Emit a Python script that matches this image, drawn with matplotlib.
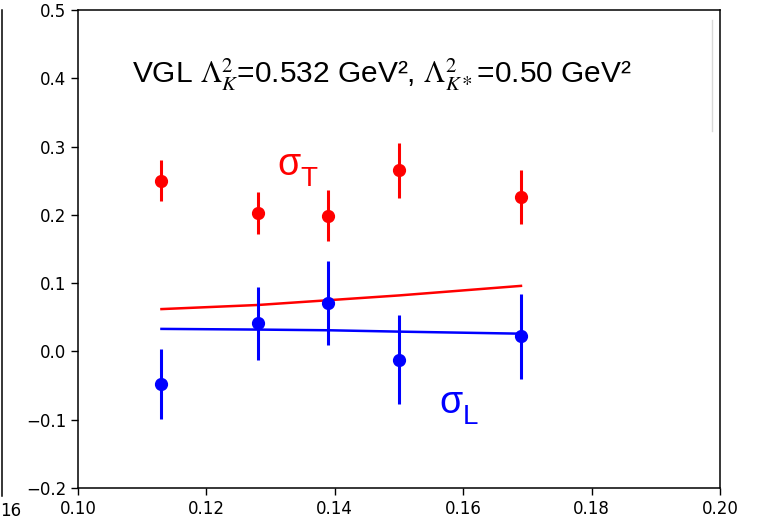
import matplotlib
matplotlib.use("Agg")
import matplotlib.pyplot as plt
from matplotlib.lines import Line2D

# ---- data ----
x_pts = [0.113, 0.128, 0.139, 0.150, 0.169]
sigT = [0.250, 0.203, 0.199, 0.265, 0.226]
sigT_err = [0.030, 0.031, 0.037, 0.040, 0.040]
sigL = [-0.048, 0.041, 0.071, -0.012, 0.022]
sigL_err = [0.051, 0.053, 0.061, 0.065, 0.062]

x_model = [0.113, 0.128, 0.139, 0.150, 0.169]
sigT_model = [0.062, 0.068, 0.075, 0.082, 0.096]
sigL_model = [0.033, 0.032, 0.031, 0.029, 0.026]

xticks = [0.10, 0.12, 0.14, 0.16, 0.18, 0.20]
yticks = [-0.2, -0.1, 0.0, 0.1, 0.2, 0.3, 0.4, 0.5]

plt.rcParams['mathtext.fontset'] = 'stix'

W, H = 760, 522
fig = plt.figure(figsize=(W / 100, H / 100), dpi=100)
ax = fig.add_axes([78 / W, (H - 488) / H, (720 - 78) / W, (488 - 10) / H])

ax.plot(x_model, sigT_model, color='#ff0000', lw=1.8)
ax.plot(x_model, sigL_model, color='#0000ff', lw=1.8)
ax.errorbar(x_pts, sigT, yerr=sigT_err, fmt='o', color='#ff0000', ms=8.5, elinewidth=2.2, capsize=0)
ax.errorbar(x_pts, sigL, yerr=sigL_err, fmt='o', color='#0000ff', ms=8.5, elinewidth=2.2, capsize=0)

ax.set_xlim(0.10, 0.20)
ax.set_ylim(-0.2, 0.5)
ax.set_xticks(xticks)
ax.set_yticks(yticks)
ax.set_xticklabels([f"{v:.2f}" for v in xticks])
ax.set_yticklabels([("\u2212" if v < 0 else "") + f"{abs(v):.1f}" for v in yticks])
ax.tick_params(labelsize=12, length=5, width=1)
for s in ax.spines.values():
    s.set_linewidth(1.1)

ax.text(0.473, 0.847,
        r"VGL $\Lambda_K^2$=0.532 GeV², $\Lambda_{K*}^2$=0.50 GeV²",
        transform=ax.transAxes, ha='center', va='baseline',
        fontsize=21.5, family='Liberation Sans')

ax.text(0.310, 0.655, "σ", transform=ax.transAxes, color='#ff0000',
        fontsize=27, family='Liberation Sans', va='baseline')
ax.text(0.347, 0.632, "T", transform=ax.transAxes, color='#ff0000',
        fontsize=20, family='Liberation Sans', va='baseline')
ax.text(0.563, 0.157, "σ", transform=ax.transAxes, color='#0000ff',
        fontsize=27, family='Liberation Sans', va='baseline')
ax.text(0.600, 0.134, "L", transform=ax.transAxes, color='#0000ff',
        fontsize=20, family='Liberation Sans', va='baseline')

# neighbouring-panel remnants and light divider
fig.add_artist(Line2D([2 / W, 2 / W], [(H - 10) / H, (H - 496) / H], color='black', lw=1.1))
fig.text(0 / W, 2 / H, "16", ha='left', va='bottom', fontsize=12)
fig.add_artist(Line2D([712 / W, 712 / W], [(H - 20) / H, (H - 131) / H], color='#d8d8d8', lw=1))

fig.savefig("out.png", dpi=100)
